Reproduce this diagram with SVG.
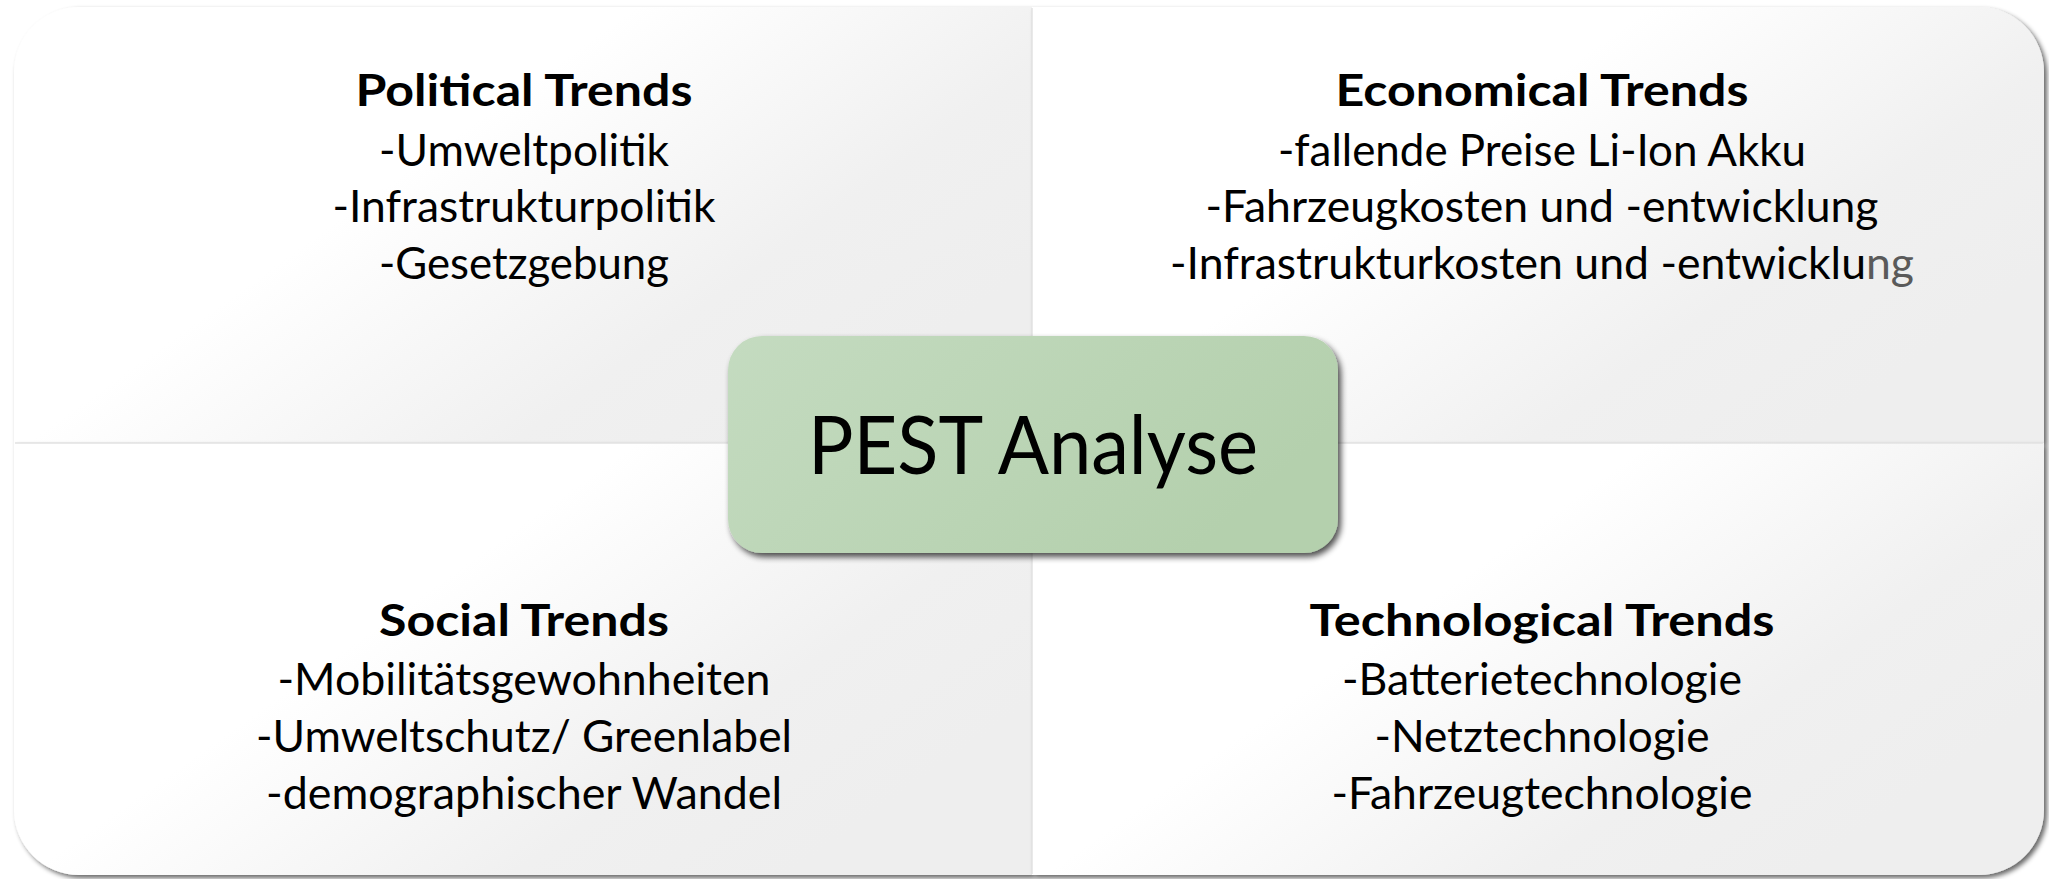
<svg xmlns="http://www.w3.org/2000/svg" width="2049" height="879" viewBox="0 0 2049 879">
<defs>
<linearGradient id="quadGrad" gradientUnits="objectBoundingBox" x1="0" y1="0" x2="1" y2="0.6">
<stop offset="0" stop-color="#ffffff"/>
<stop offset="0.45" stop-color="#ffffff"/>
<stop offset="0.8" stop-color="#f0f0f0"/>
<stop offset="1" stop-color="#eeeeee"/>
</linearGradient>
<linearGradient id="boxGrad" x1="0" y1="0" x2="1" y2="0.4">
<stop offset="0" stop-color="#c4dbc0"/>
<stop offset="1" stop-color="#b4d0ad"/>
</linearGradient>
<filter id="shadow" x="-5%" y="-5%" width="112%" height="115%">
<feGaussianBlur in="SourceAlpha" stdDeviation="2.5"/>
<feOffset dx="3" dy="3" result="b"/>
<feComponentTransfer><feFuncA type="linear" slope="0.6"/></feComponentTransfer>
<feMerge><feMergeNode/><feMergeNode in="SourceGraphic"/></feMerge>
</filter>
<filter id="boxShadow" x="-5%" y="-10%" width="112%" height="125%">
<feGaussianBlur in="SourceAlpha" stdDeviation="3"/>
<feOffset dx="3" dy="4" result="b"/>
<feComponentTransfer><feFuncA type="linear" slope="0.7"/></feComponentTransfer>
<feMerge><feMergeNode/><feMergeNode in="SourceGraphic"/></feMerge>
</filter>
</defs>
<style>
.quad{fill:url(#quadGrad);filter:url(#shadow);}
.t{font-family:Lato,"Liberation Sans",sans-serif;font-size:44px;fill:#000;text-anchor:middle;}
.h{font-weight:bold;}
.c{font-family:Lato,"Liberation Sans",sans-serif;font-size:82px;fill:#000;text-anchor:middle;}
.div{stroke:#e2e2e2;stroke-width:1.5;fill:none;}
</style>
<rect width="2049" height="879" fill="#ffffff"/>
<g id="political">
<path class="quad" d="M14,72 A65,65 0 0 1 79,7 H1032 V443 H14 Z"/>
<text class="t h" x="524" y="106" textLength="337" lengthAdjust="spacingAndGlyphs">Political Trends</text>
<text class="t" x="524" y="166" textLength="290" lengthAdjust="spacingAndGlyphs">-Umweltpolitik</text>
<text class="t" x="524" y="222" textLength="383" lengthAdjust="spacingAndGlyphs">-Infrastrukturpolitik</text>
<text class="t" x="524" y="279" textLength="290" lengthAdjust="spacingAndGlyphs">-Gesetzgebung</text>
</g>
<g id="economical">
<path class="quad" d="M1032,7 H1979 A65,65 0 0 1 2044,72 V443 H1032 Z"/>
<text class="t h" x="1542" y="106" textLength="413" lengthAdjust="spacingAndGlyphs">Economical Trends</text>
<text class="t" x="1542" y="166" textLength="528" lengthAdjust="spacingAndGlyphs">-fallende Preise Li-Ion Akku</text>
<text class="t" x="1542" y="222" textLength="673" lengthAdjust="spacingAndGlyphs">-Fahrzeugkosten und -entwicklung</text>
<text class="t" x="1542" y="279" textLength="744" lengthAdjust="spacingAndGlyphs">-Infrastrukturkosten und -entwicklu<tspan fill="#5a5a5a">ng</tspan></text>
</g>
<g id="social">
<path class="quad" d="M14,443 H1032 V875 H79 A65,65 0 0 1 14,810 Z"/>
<text class="t h" x="524" y="636" textLength="290" lengthAdjust="spacingAndGlyphs">Social Trends</text>
<text class="t" x="524" y="695" textLength="493" lengthAdjust="spacingAndGlyphs">-Mobilitätsgewohnheiten</text>
<text class="t" x="524" y="752" textLength="536" lengthAdjust="spacingAndGlyphs">-Umweltschutz/ Greenlabel</text>
<text class="t" x="524" y="809" textLength="516" lengthAdjust="spacingAndGlyphs">-demographischer Wandel</text>
</g>
<g id="technological">
<path class="quad" d="M1032,443 H2044 V810 A65,65 0 0 1 1979,875 H1032 Z"/>
<text class="t h" x="1542" y="636" textLength="465" lengthAdjust="spacingAndGlyphs">Technological Trends</text>
<text class="t" x="1542" y="695" textLength="400" lengthAdjust="spacingAndGlyphs">-Batterietechnologie</text>
<text class="t" x="1542" y="752" textLength="335" lengthAdjust="spacingAndGlyphs">-Netztechnologie</text>
<text class="t" x="1542" y="809" textLength="421" lengthAdjust="spacingAndGlyphs">-Fahrzeugtechnologie</text>
</g>
<g id="connectors">
<path class="div" d="M1032,8 V874 M15,443 H2043"/>
</g>
<g id="pest">
<rect x="728" y="336" width="610" height="217" rx="34" ry="34" fill="url(#boxGrad)" filter="url(#boxShadow)"/>
<text class="c" x="1033" y="474" textLength="450" lengthAdjust="spacingAndGlyphs">PEST Analyse</text>
</g>
</svg>
